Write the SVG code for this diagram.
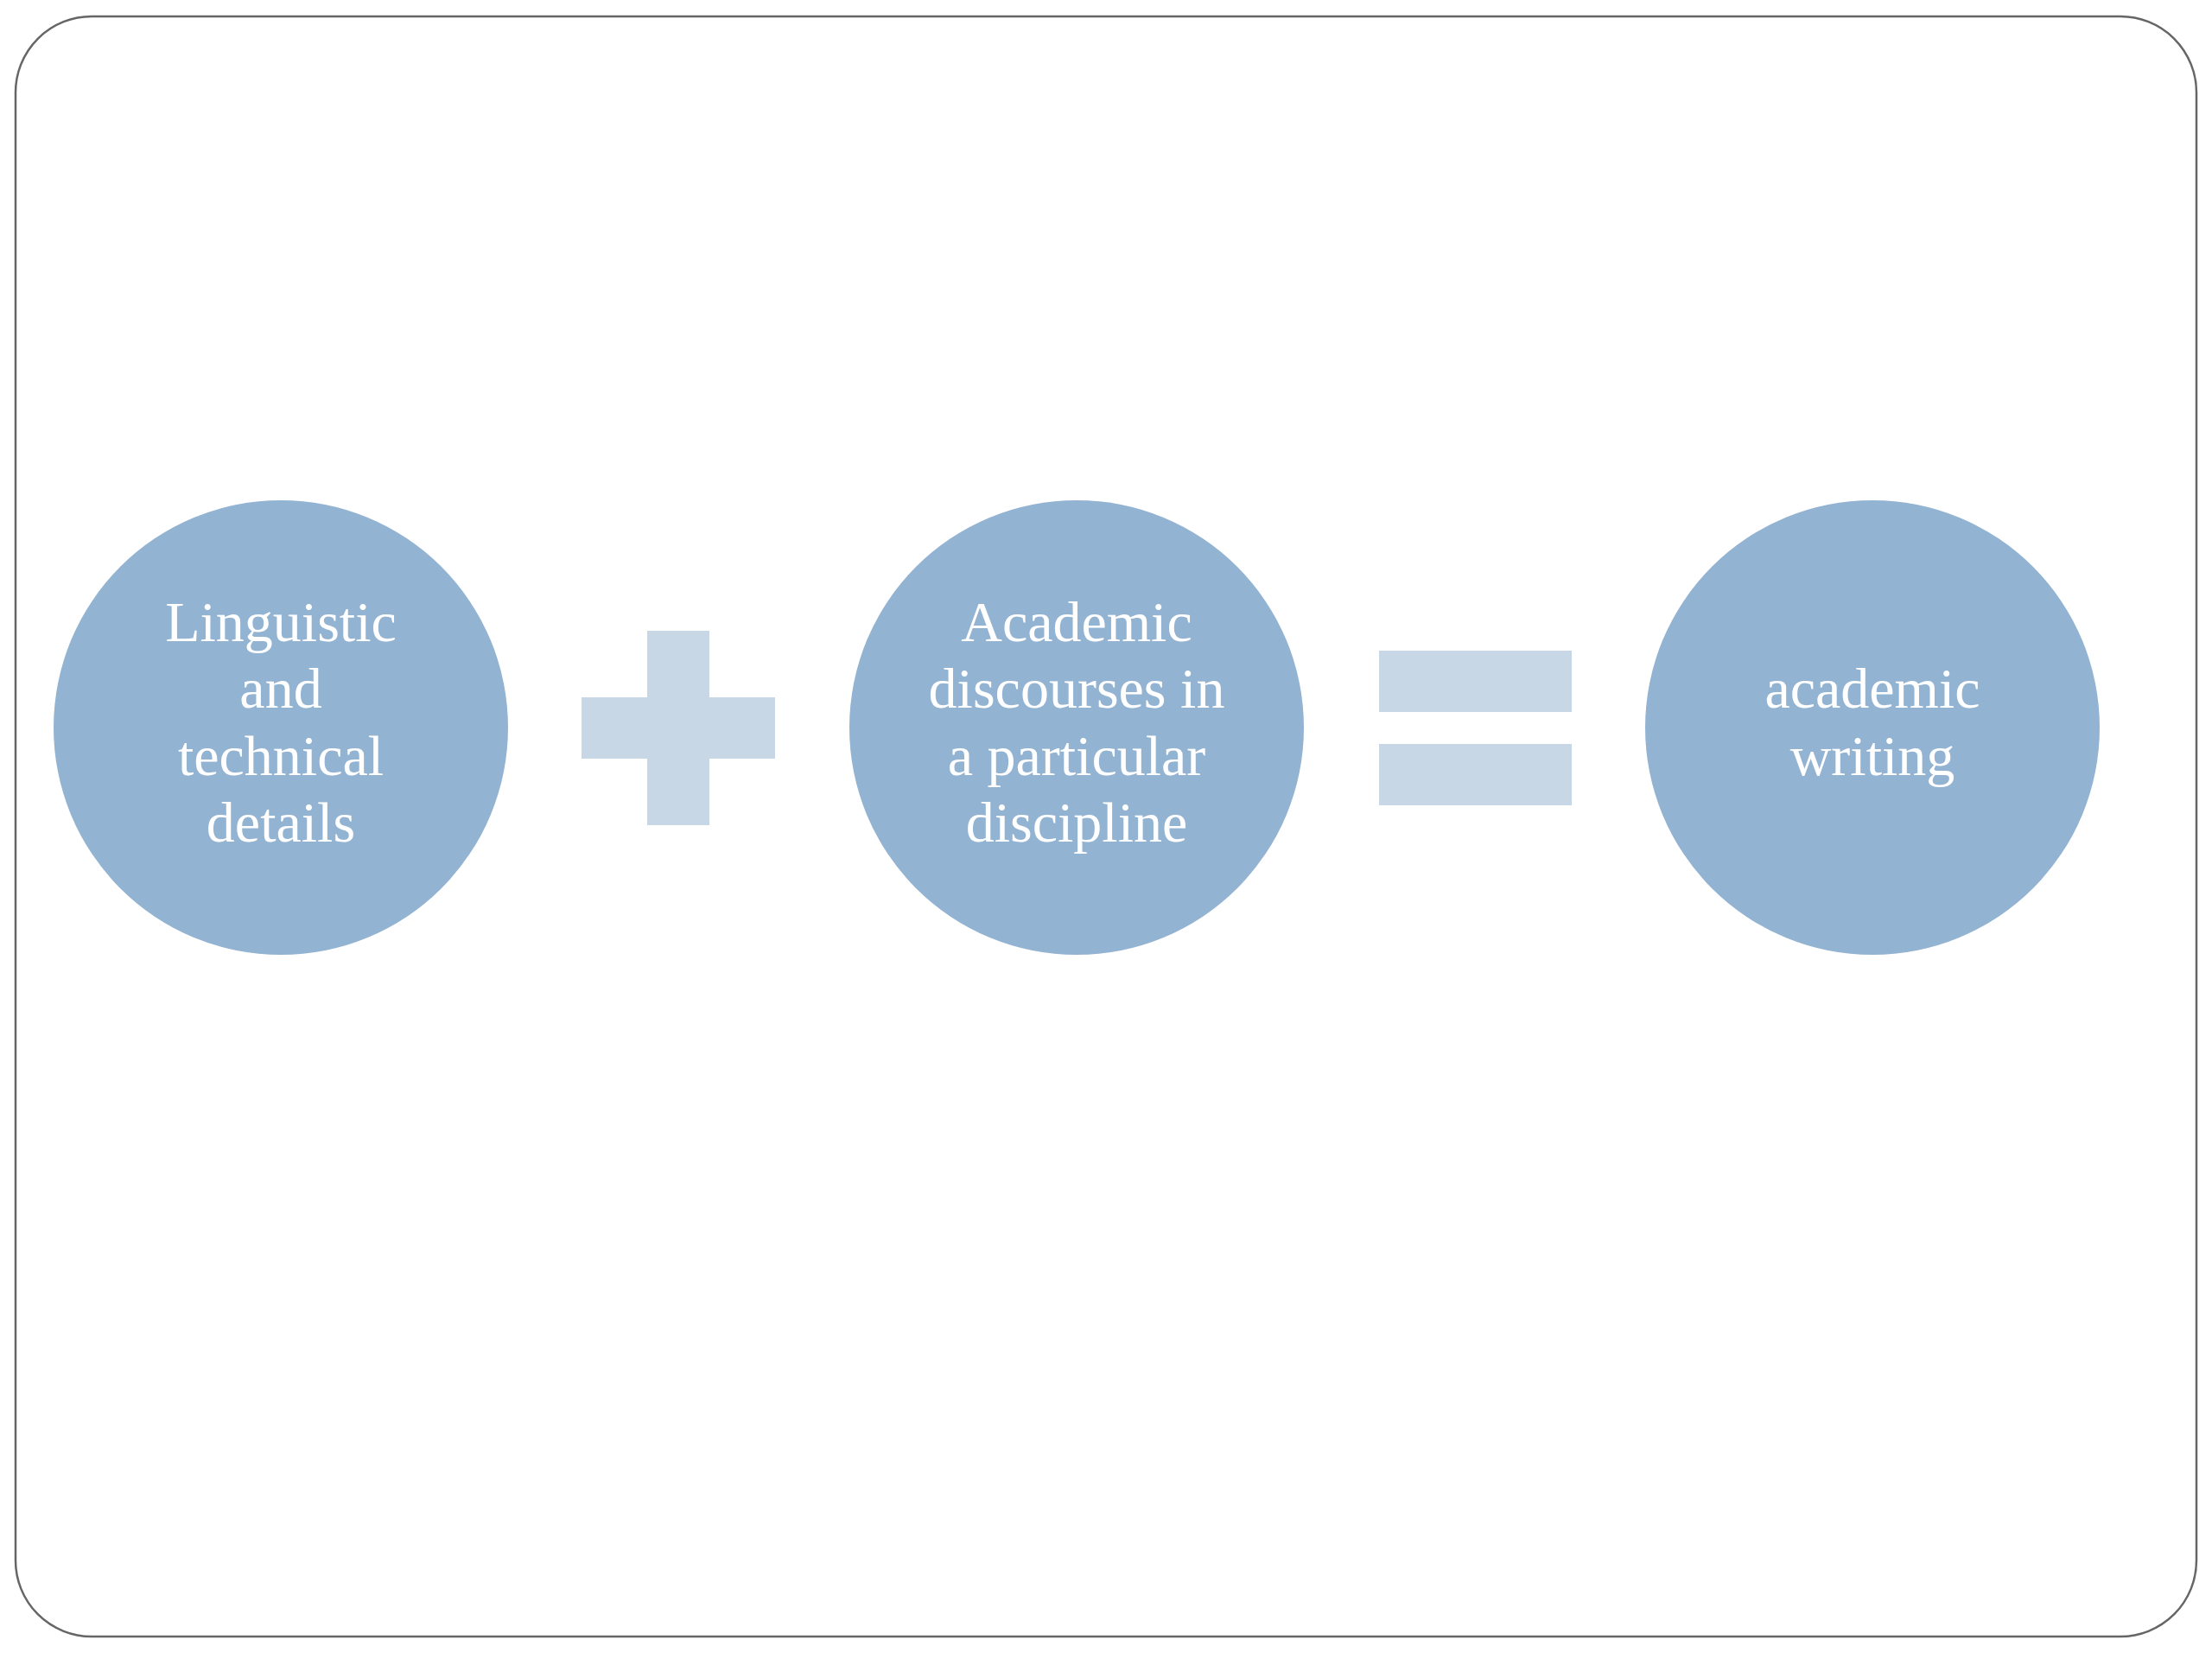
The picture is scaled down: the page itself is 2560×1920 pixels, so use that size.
<svg xmlns="http://www.w3.org/2000/svg" width="2560" height="1920" viewBox="0 0 2560 1920">
<style>
.node{fill:#93B3D2}
.op{fill:#C8D7E5}
.lbl{font-family:"Liberation Serif","Times New Roman",serif;font-size:66px;fill:#FFFFFF;text-anchor:middle}
</style>
<rect x="0" y="0" width="2560" height="1920" fill="#FFFFFF"/>
<rect x="18" y="19" width="2524" height="1875" rx="88" ry="88" fill="#FFFFFF" stroke="#666666" stroke-width="2.5"/>
<g id="node-linguistic">
<circle class="node" cx="325" cy="842" r="263"/>
<text class="lbl"><tspan x="325" y="742">Linguistic</tspan><tspan x="325" y="819">and</tspan><tspan x="325" y="897">technical</tspan><tspan x="325" y="974">details</tspan></text>
</g>
<g id="connectors">
<g id="plus">
<rect class="op" x="749" y="730" width="72" height="225"/>
<rect class="op" x="673" y="807" width="224" height="71"/>
</g>
<g id="equals">
<rect class="op" x="1596" y="753" width="223" height="71"/>
<rect class="op" x="1596" y="861" width="223" height="71"/>
</g>
</g>
<g id="node-academic-discourses">
<circle class="node" cx="1246" cy="842" r="263"/>
<text class="lbl"><tspan x="1246" y="742">Academic</tspan><tspan x="1246" y="819">discourses in</tspan><tspan x="1246" y="897">a particular</tspan><tspan x="1246" y="974">discipline</tspan></text>
</g>
<g id="node-academic-writing">
<circle class="node" cx="2167" cy="842" r="263"/>
<text class="lbl"><tspan x="2167" y="819">academic</tspan><tspan x="2167" y="897">writing</tspan></text>
</g>
</svg>
